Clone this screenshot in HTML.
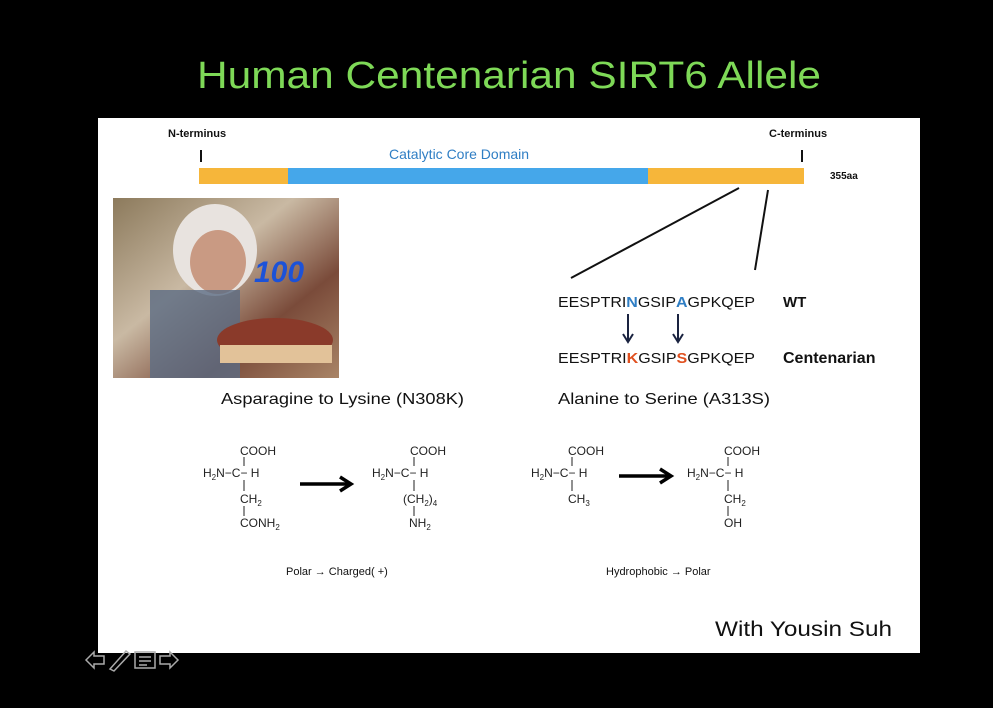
<!DOCTYPE html>
<html><head><meta charset="utf-8"><style>
html,body{margin:0;padding:0;background:#000;width:993px;height:708px;overflow:hidden}
svg{display:block}
text{font-family:"Liberation Sans",Arial,sans-serif}
</style></head><body>
<svg width="993" height="708" viewBox="0 0 993 708" xmlns="http://www.w3.org/2000/svg">
<rect width="993" height="708" fill="#000"/>
<text x="509" y="88" font-size="38" fill="#7ed957" text-anchor="middle" textLength="624" lengthAdjust="spacingAndGlyphs">Human Centenarian SIRT6 Allele</text>
<rect x="98" y="118" width="822" height="535" fill="#fff"/>
<text x="168" y="137" font-size="11" font-weight="bold" fill="#111">N-terminus</text>
<text x="769" y="137" font-size="11" font-weight="bold" fill="#111">C-terminus</text>
<rect x="200" y="150" width="2" height="12" fill="#111"/>
<rect x="801" y="150" width="2" height="12" fill="#111"/>
<text x="389" y="159" font-size="14" fill="#2f7ec4">Catalytic Core Domain</text>
<rect x="199" y="168" width="605" height="16" fill="#f6b63a"/>
<rect x="288" y="168" width="360" height="16" fill="#45a7ea"/>
<text x="830" y="179" font-size="10" font-weight="bold" fill="#111">355aa</text>
<line x1="739" y1="188" x2="571" y2="278" stroke="#111" stroke-width="2"/>
<line x1="768" y1="190" x2="755" y2="270" stroke="#111" stroke-width="2"/>
<defs>
<linearGradient id="ph" x1="0" y1="0" x2="1" y2="1">
<stop offset="0" stop-color="#8c7a5c"/><stop offset="0.4" stop-color="#c9b9a3"/><stop offset="0.7" stop-color="#7a4b3a"/><stop offset="1" stop-color="#a98466"/>
</linearGradient>
</defs>
<rect x="113" y="198" width="226" height="180" fill="url(#ph)"/>
<ellipse cx="215" cy="250" rx="42" ry="46" fill="#e8e3df"/>
<ellipse cx="218" cy="262" rx="28" ry="32" fill="#c99a83"/>
<rect x="150" y="290" width="90" height="88" fill="#5b6b83" opacity="0.8"/>
<ellipse cx="275" cy="340" rx="58" ry="22" fill="#8a3a2a"/>
<rect x="220" y="345" width="112" height="18" fill="#e2c299"/>
<text x="254" y="282" font-size="30" font-weight="bold" font-style="italic" fill="#1c52d8">100</text>
<text x="558" y="307" font-size="15" fill="#111" textLength="197" lengthAdjust="spacingAndGlyphs">EESPTRI<tspan fill="#2f7ec4" font-weight="bold">N</tspan>GSIP<tspan fill="#2f7ec4" font-weight="bold">A</tspan>GPKQEP</text>
<text x="783" y="307" font-size="15" font-weight="bold" fill="#111">WT</text>
<line x1="628" y1="314" x2="628" y2="340" stroke="#1a2340" stroke-width="2"/>
<path d="M623 334 L628 342 L633 334" fill="none" stroke="#1a2340" stroke-width="2"/>
<line x1="678" y1="314" x2="678" y2="340" stroke="#1a2340" stroke-width="2"/>
<path d="M673 334 L678 342 L683 334" fill="none" stroke="#1a2340" stroke-width="2"/>
<text x="558" y="363" font-size="15" fill="#111" textLength="197" lengthAdjust="spacingAndGlyphs">EESPTRI<tspan fill="#e0501f" font-weight="bold">K</tspan>GSIP<tspan fill="#e0501f" font-weight="bold">S</tspan>GPKQEP</text>
<text x="783" y="363" font-size="16" font-weight="bold" fill="#111">Centenarian</text>
<text x="221" y="404" font-size="16" fill="#111" textLength="243" lengthAdjust="spacingAndGlyphs">Asparagine to Lysine (N308K)</text>
<text x="558" y="404" font-size="16" fill="#111" textLength="212" lengthAdjust="spacingAndGlyphs">Alanine to Serine (A313S)</text>
<g font-size="12" fill="#222">
<text x="240" y="455">COOH</text>
<text x="203" y="477">H<tspan font-size="8" dy="3">2</tspan><tspan dy="-3">N−C− H</tspan></text>
<text x="240" y="503">CH<tspan font-size="8" dy="3">2</tspan></text>
<text x="240" y="527">CONH<tspan font-size="8" dy="3">2</tspan></text>
<line x1="244" y1="457" x2="244" y2="466" stroke="#222"/>
<line x1="244" y1="480" x2="244" y2="491" stroke="#222"/>
<line x1="244" y1="506" x2="244" y2="516" stroke="#222"/>
<text x="410" y="455">COOH</text>
<text x="372" y="477">H<tspan font-size="8" dy="3">2</tspan><tspan dy="-3">N−C− H</tspan></text>
<text x="403" y="503">(CH<tspan font-size="8" dy="3">2</tspan><tspan dy="-3">)</tspan><tspan font-size="8" dy="3">4</tspan></text>
<text x="409" y="527">NH<tspan font-size="8" dy="3">2</tspan></text>
<line x1="414" y1="457" x2="414" y2="466" stroke="#222"/>
<line x1="414" y1="480" x2="414" y2="491" stroke="#222"/>
<line x1="414" y1="506" x2="414" y2="516" stroke="#222"/>
<text x="568" y="455">COOH</text>
<text x="531" y="477">H<tspan font-size="8" dy="3">2</tspan><tspan dy="-3">N−C− H</tspan></text>
<text x="568" y="503">CH<tspan font-size="8" dy="3">3</tspan></text>
<line x1="572" y1="457" x2="572" y2="466" stroke="#222"/>
<line x1="572" y1="480" x2="572" y2="491" stroke="#222"/>
<text x="724" y="455">COOH</text>
<text x="687" y="477">H<tspan font-size="8" dy="3">2</tspan><tspan dy="-3">N−C− H</tspan></text>
<text x="724" y="503">CH<tspan font-size="8" dy="3">2</tspan></text>
<text x="724" y="527">OH</text>
<line x1="728" y1="457" x2="728" y2="466" stroke="#222"/>
<line x1="728" y1="480" x2="728" y2="491" stroke="#222"/>
<line x1="728" y1="506" x2="728" y2="516" stroke="#222"/>
</g>
<line x1="300" y1="484" x2="348" y2="484" stroke="#000" stroke-width="3.5"/>
<path d="M340 477 L351 484 L340 491" fill="none" stroke="#000" stroke-width="3.5"/>
<line x1="619" y1="476" x2="668" y2="476" stroke="#000" stroke-width="3.5"/>
<path d="M660 469 L671 476 L660 483" fill="none" stroke="#000" stroke-width="3.5"/>
<text x="286" y="575" font-size="11" fill="#111">Polar → Charged( +)</text>
<text x="606" y="575" font-size="11" fill="#111">Hydrophobic → Polar</text>
<text x="715" y="636" font-size="21" fill="#111" textLength="177" lengthAdjust="spacingAndGlyphs">With Yousin Suh</text>
<g fill="none" stroke="#aaa" stroke-width="1.5">
<path d="M86 660 L94 652 L94 656 L104 656 L104 664 L94 664 L94 668 Z"/>
<path d="M110 669 L126 651 L130 654 L114 671 Z"/>
<rect x="135" y="652" width="20" height="16"/>
<line x1="139" y1="657" x2="151" y2="657"/><line x1="139" y1="661" x2="151" y2="661"/><line x1="139" y1="665" x2="147" y2="665"/>
<path d="M178 660 L170 652 L170 656 L160 656 L160 664 L170 664 L170 668 Z"/>
</g>
</svg>
</body></html>
